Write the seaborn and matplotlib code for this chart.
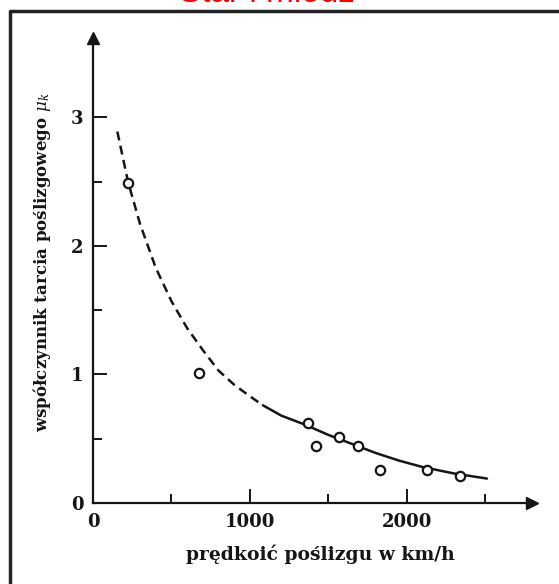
import matplotlib
matplotlib.use("Agg")
import matplotlib.pyplot as plt
from matplotlib.lines import Line2D
import pandas as pd
import seaborn as sns

# measured points (speed km/h, friction coefficient)
pts_speed = [224, 673, 1372, 1423, 1570, 1692, 1827, 2128, 2340]
pts_mu = [2.49, 1.01, 0.62, 0.44, 0.51, 0.44, 0.26, 0.26, 0.21]

# fitted curve, dashed part then solid part
dash_speed = [155, 223, 300, 400, 500, 600, 700, 800, 900, 1000, 1083]
dash_mu = [2.89, 2.50, 2.17, 1.83, 1.57, 1.36, 1.19, 1.03, 0.92, 0.83, 0.76]
solid_speed = [1083, 1200, 1350, 1500, 1650, 1800, 1950, 2100, 2300, 2511]
solid_mu = [0.76, 0.68, 0.61, 0.53, 0.46, 0.39, 0.33, 0.28, 0.23, 0.19]

x_major = [0, 1000, 2000]
x_minor = [500, 1500, 2500]
y_major = [0, 1, 2, 3]
y_minor = [0.5, 1.5, 2.5]

sns.set_theme(style="white")
plt.rcParams["font.family"] = ["DejaVu Serif"]
plt.rcParams["mathtext.fontset"] = "dejavuserif"

ink = "#151515"
fig = plt.figure(figsize=(5.59, 5.84), dpi=100)
ax = fig.add_axes([93 / 559, 81 / 584, 455 / 559, 482 / 584])

pts = pd.DataFrame({"v": pts_speed, "mu": pts_mu})
dash = pd.DataFrame({"v": dash_speed, "mu": dash_mu})
solid = pd.DataFrame({"v": solid_speed, "mu": solid_mu})

sns.lineplot(data=dash, x="v", y="mu", ax=ax, color=ink, lw=1.8, sort=False)
ax.lines[-1].set_dashes([3.6, 2.2])
sns.lineplot(data=solid, x="v", y="mu", ax=ax, color=ink, lw=1.8, sort=False)
sns.scatterplot(data=pts, x="v", y="mu", ax=ax, s=45, facecolor="white",
                edgecolor=ink, linewidth=1.6, zorder=5)

ax.set_xlim(0, 2900)
ax.set_ylim(0, 3.75)
for s in ["top", "right"]:
    ax.spines[s].set_visible(False)
ax.spines["left"].set_bounds(0, 3.6)
ax.spines["bottom"].set_bounds(0, 2790)
for s in ["left", "bottom"]:
    ax.spines[s].set_linewidth(1.6)
    ax.spines[s].set_color(ink)

# arrow heads
ax.plot([0], [3.62], marker="^", ms=9, color=ink, clip_on=False)
ax.plot([2800], [0], marker=">", ms=9, color=ink, clip_on=False)

ax.set_xticks(x_major)
ax.set_xticks(x_minor, minor=True)
ax.set_yticks(y_major)
ax.set_yticks(y_minor, minor=True)
ax.tick_params(which="both", direction="in", color=ink, width=1.4,
               labelsize=13, pad=7, left=True, bottom=True)
ax.tick_params(which="major", length=10)
ax.tick_params(which="minor", length=6.5)
for lab in ax.get_xticklabels() + ax.get_yticklabels():
    lab.set_fontweight("bold")
    lab.set_color(ink)

ax.set_xlabel("prędkoić poślizgu w km/h", fontsize=13.5, fontweight="bold",
              color=ink, labelpad=10)
ax.set_ylabel(r"współczynnik tarcia poślizgowego $\mu_k$", fontsize=12,
              fontweight="bold", color=ink, labelpad=13)

# frame of the slide and cut-off red title
fig.add_artist(Line2D([10 / 559, 10 / 559, 1.0], [0.0, 1 - 11 / 584, 1 - 11 / 584],
                      transform=fig.transFigure, color="#222222", lw=2.5))
fig.text(267 / 559, 1 - 1.5 / 584, "Star i młodz", color="red", fontsize=24,
         ha="center", va="baseline", family="Liberation Sans")

fig.savefig("out.png", dpi=100)
